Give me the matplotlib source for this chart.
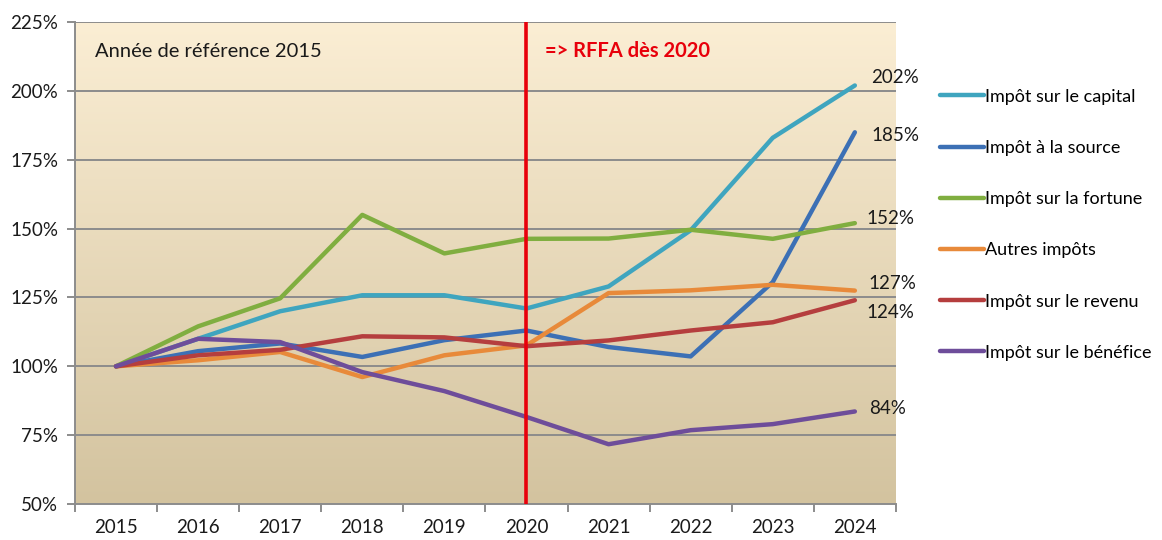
import numpy as np
import matplotlib
matplotlib.use("Agg")
import matplotlib.pyplot as plt
from matplotlib.colors import LinearSegmentedColormap

plt.rcParams["font.family"] = ["Lato", "DejaVu Sans"]

years = ["2015", "2016", "2017", "2018", "2019", "2020", "2021", "2022", "2023", "2024"]

capital = [100, 110, 120, 125.8, 125.8, 121, 129, 149.4, 183, 202]
source = [100, 105.5, 108.3, 103.4, 109.5, 113, 107, 103.6, 130.6, 185]
fortune = [100, 114.5, 124.7, 155, 141, 146.3, 146.4, 149.6, 146.3, 152]
autres = [100, 102.2, 105.2, 96.1, 104, 107.6, 126.6, 127.6, 129.6, 127.5]
revenu = [100, 104, 106, 110.9, 110.5, 107.3, 109.4, 113, 116, 124]
benefice = [100, 110, 108.8, 97.9, 91, 81.6, 71.7, 76.8, 79, 83.6]

series_names = ["Impôt sur le capital", "Impôt à la source", "Impôt sur la fortune",
                "Autres impôts", "Impôt sur le revenu", "Impôt sur le bénéfice"]
end_labels = ["202%", "185%", "152%", "127%", "124%", "84%"]

colors = ["#3FA5BF", "#3C70B5", "#80AE40", "#E88A3A", "#B53E3E", "#6E4D9A"]
label_offsets = [(12, 6), (12, -2), (8, 3), (10, 5), (8, -9), (10, 2)]

fig = plt.figure(figsize=(11.62, 5.40), dpi=100)
ax = fig.add_axes([0.0645, 0.0667, 0.7065, 0.8923])

x = np.arange(len(years))
ax.set_xlim(-0.5, len(years) - 0.5)
ax.set_ylim(50, 225)

# background gradient
cmap = LinearSegmentedColormap.from_list("bg", ["#D3C39F", "#FBEED4"])
grad = np.linspace(0, 1, 256).reshape(-1, 1)
ax.imshow(grad, cmap=cmap, origin="lower", aspect="auto",
          extent=[-0.5, len(years) - 0.5, 50, 225], zorder=0)

for yv in [75, 100, 125, 150, 175, 200, 225]:
    ax.axhline(yv, color="#8C8C8C", lw=1.4, zorder=1)

all_series = [capital, source, fortune, autres, revenu, benefice]
for vals, name, col, lab, off in zip(all_series, series_names, colors, end_labels, label_offsets):
    ax.plot(x, vals, color=col, lw=3.2, label=name, zorder=3, solid_capstyle="round")
    ax.annotate(lab, (x[-1], vals[-1]), xytext=off, textcoords="offset points",
                fontsize=13.5, color="#1a1a1a", va="center", ha="left",
                annotation_clip=False)

ax.axvline(5, color="#E8000B", lw=2.6, zorder=4)

ax.text(0.025, 0.94, "Année de référence 2015", transform=ax.transAxes,
        fontsize=14.5, color="#1a1a1a", va="center")
ax.text(0.573, 0.94, "=> RFFA dès 2020", transform=ax.transAxes,
        fontsize=14.5, color="#E8000B", fontweight="bold", va="center")

ax.set_yticks([50, 75, 100, 125, 150, 175, 200, 225])
ax.set_yticklabels([f"{v}%" for v in [50, 75, 100, 125, 150, 175, 200, 225]])
ax.set_xticks(x)
ax.set_xticklabels(years)
ax.set_xticks(np.arange(-0.5, len(years)), minor=True)
ax.tick_params(axis="x", which="major", length=0, pad=11, labelsize=13.5, labelcolor="#1a1a1a")
ax.tick_params(axis="x", which="minor", length=6, color="#8C8C8C", width=1.4)
ax.tick_params(axis="y", length=6, color="#8C8C8C", width=1.4, labelsize=13.5,
               labelcolor="#1a1a1a", pad=6)

for s in ["top", "right"]:
    ax.spines[s].set_visible(False)
for s in ["left", "bottom"]:
    ax.spines[s].set_color("#8C8C8C")
    ax.spines[s].set_linewidth(1.4)

fig.legend(loc="upper left", bbox_to_anchor=(0.803, 0.849), frameon=False,
           fontsize=13, labelspacing=1.95, handlelength=2.4, handletextpad=0.1,
           borderaxespad=0)

fig.savefig("out.png", dpi=100)
